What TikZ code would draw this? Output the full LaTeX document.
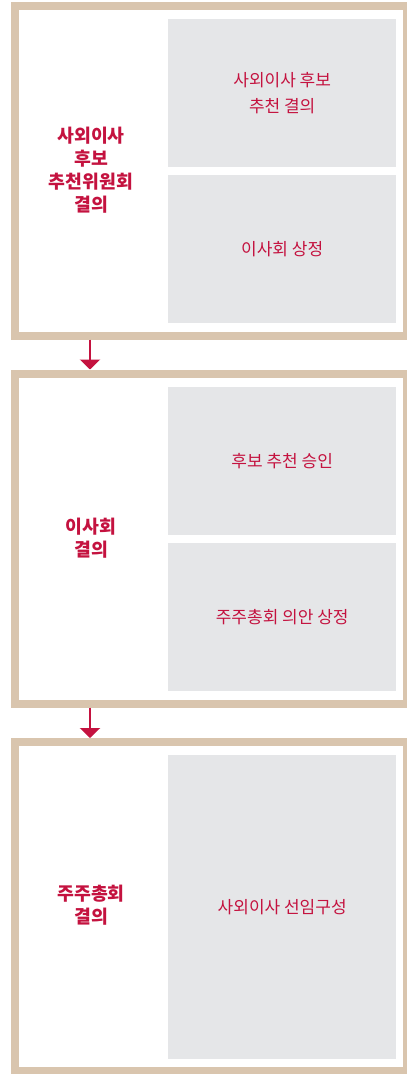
\documentclass[tikz,border=0pt]{standalone}
\usepackage{fontspec}
\newfontfamily\kr{Noto Sans CJK KR}
\usetikzlibrary{arrows.meta}
\definecolor{tan}{HTML}{D9C5AE}
\definecolor{panel}{HTML}{E5E6E8}
\definecolor{crim}{HTML}{C4123F}
\tikzset{
  frame/.style={draw=tan, line width=8pt},
  panelbox/.style={fill=panel, draw=none, minimum width=228pt, anchor=north west, inner sep=0pt},
  lefttext/.style={text=crim, font=\kr\bfseries\fontsize{18.3}{23}\selectfont, align=center},
  righttext/.style={text=crim, font=\kr\fontsize{17}{26}\selectfont, align=center},
  flow/.style={draw=crim, line width=2.2pt, -{Triangle[width=20pt,length=10pt]}}
}
\begin{document}
\begin{tikzpicture}[x=1pt,y=-1pt]
\useasboundingbox (0,0) rectangle (407,1074);
\fill[white] (0,0) rectangle (407,1074);
% frames
\draw[frame] (15,6) rectangle (407,335.5);
\draw[frame] (15,373.5) rectangle (407,703.5);
\draw[frame] (15,742) rectangle (407,1071);
\coordinate (f1b) at (90,339.5);
\coordinate (f2t) at (90,369.5);
\coordinate (f2b) at (90,707.5);
\coordinate (f3t) at (90,738);
% panels
\node[panelbox, minimum height=148pt] (p1) at (168,19) {};
\node[panelbox, minimum height=148pt] (p2) at (168,175) {};
\node[panelbox, minimum height=148pt] (p3) at (168,387) {};
\node[panelbox, minimum height=148pt] (p4) at (168,543) {};
\node[panelbox, minimum height=304pt] (p5) at (168,755) {};
% panel texts
\node[righttext] (t1) at (p1.center) {사외이사 후보\\추천 결의};
\node[righttext] (t2) at (p2.center) {이사회 상정};
\node[righttext] (t3) at (p3.center) {후보 추천 승인};
\node[righttext] (t4) at (p4.center) {주주총회 의안 상정};
\node[righttext] (t5) at (p5.center) {사외이사 선임구성};
% left texts
\node[lefttext] (l1) at (91,170) {사외이사\\후보\\추천위원회\\결의};
\node[lefttext] (l2) at (91,538) {이사회\\결의};
\node[lefttext] (l3) at (91,905) {주주총회\\결의};
% arrows
\draw[flow] (f1b) -- (f2t);
\draw[flow] (f2b) -- (f3t);
\end{tikzpicture}
\end{document}
